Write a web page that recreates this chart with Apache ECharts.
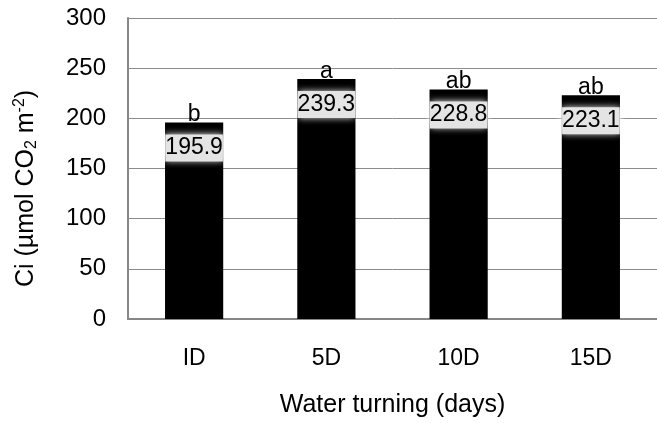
<!DOCTYPE html>
<html>
<head>
<meta charset="utf-8">
<script src="https://cdn.jsdelivr.net/npm/echarts@6/dist/echarts.min.js"></script>
<style>
html,body{margin:0;padding:0;background:#fff;overflow:hidden;}
#chart{width:657px;height:423px;}
</style>
</head>
<body>
<div id="chart"></div>
<script>
const categories = ['ID', '5D', '10D', '15D'];
const values = [195.9, 239.3, 228.8, 223.1];
const letters = ['b', 'a', 'ab', 'ab'];
const yTicks = [0, 50, 100, 150, 200, 250, 300];

const FONT = '"Liberation Sans", Arial, sans-serif';
const chart = echarts.init(document.getElementById('chart'));
chart.setOption({
  animation: false,
  backgroundColor: '#fff',
  grid: { left: 128, right: -10, top: 18, bottom: 102, containLabel: false },
  xAxis: {
    type: 'category',
    data: categories,
    axisLine: { lineStyle: { color: '#868686', width: 2 } },
    axisTick: { show: false },
    axisLabel: { color: '#000', fontFamily: FONT, fontSize: 23, margin: 28 },
    name: 'Water turning (days)',
    nameLocation: 'middle',
    nameGap: 74,
    nameTextStyle: { color: '#000', fontFamily: FONT, fontSize: 25 }
  },
  yAxis: {
    type: 'value',
    min: yTicks[0],
    max: yTicks[yTicks.length - 1],
    interval: yTicks[1] - yTicks[0],
    axisLine: { show: true, lineStyle: { color: '#868686', width: 2 } },
    axisTick: { show: false },
    splitLine: { lineStyle: { color: '#8c8c8c', width: 1 } },
    axisLabel: { color: '#000', fontFamily: FONT, fontSize: 24, margin: 22 },
    name: 'Ci (µmol CO{sub|2} m{sup|-2})',
    nameLocation: 'middle',
    nameRotate: 90,
    nameGap: 88,
    nameTextStyle: {
      color: '#000', fontFamily: FONT, fontSize: 25,
      padding: [0, 40, 0, 0],
      rich: {
        sub: { fontSize: 16, fontFamily: FONT, color: '#000', padding: [12, 0, 0, 0] },
        sup: { fontSize: 16, fontFamily: FONT, color: '#000', padding: [0, 0, 12, 0] }
      }
    }
  },
  series: [
    {
      type: 'bar',
      data: values,
      barCategoryGap: '56%',
      itemStyle: { color: '#000' },
      label: {
        show: true,
        position: 'insideTop',
        distance: 12,
        formatter: (p) => p.value.toFixed(1),
        color: '#000',
        fontFamily: FONT,
        fontSize: 23,
        backgroundColor: '#e4e4e4',
        padding: [2, 0],
        shadowColor: '#ffffff',
        shadowBlur: 7
      }
    },
    {
      type: 'bar',
      data: values,
      barGap: '-100%',
      barCategoryGap: '56%',
      itemStyle: { color: 'rgba(0,0,0,0)' },
      silent: true,
      label: {
        show: true,
        position: 'top',
        distance: -4,
        formatter: (p) => letters[p.dataIndex],
        color: '#000',
        fontFamily: FONT,
        fontSize: 23
      }
    }
  ]
});
</script>
</body>
</html>
